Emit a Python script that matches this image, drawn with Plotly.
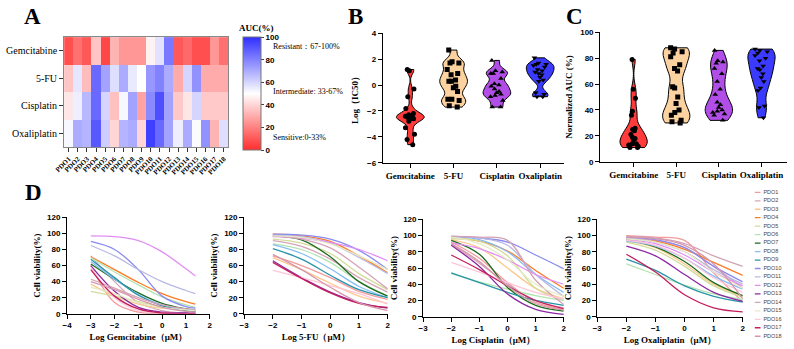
import plotly.graph_objects as go

# ---------------- data ----------------
pdo_names = [f"PDO{i}" for i in range(1, 19)]
drugs = ["Gemcitabine", "5-FU", "Cisplatin", "Oxaliplatin"]

# Panel A: AUC(%) heatmap rows
auc_gem = [8, 16, 10, 36, 6, 32, 25, 25, 25, 47, 57, 82, 10, 14, 8, 8, 25, 16]
auc_5fu = [36, 56, 34, 86, 72, 58, 70, 55, 50, 75, 80, 70, 30, 60, 76, 30, 30, 30]
auc_cis = [44, 54, 67, 86, 60, 35, 52, 72, 28, 78, 92, 72, 37, 44, 60, 37, 37, 37]
auc_oxa = [52, 70, 68, 90, 62, 40, 68, 70, 40, 96, 86, 72, 54, 70, 51, 76, 32, 58]

# Panel B: Log(IC50)
ic50_gem = [1.2, 1.1, -0.3, -0.9, -1.8, -2.2, -2.3, -2.4, -2.4, -2.5, -2.5, -2.6, -2.6, -2.8, -3.3, -3.8, -4.2, -4.6]
ic50_5fu = [2.7, 1.8, 1.7, 1.7, 1.2, 0.9, 0.8, 0.4, 0.3, 0.3, -0.1, -0.2, -0.5, -1.1, -1.2, -1.1, -1.6, -1.7]
ic50_cis = [1.9, 1.1, 1.0, 0.9, 0.9, 0.5, 0.1, 0.0, -0.1, -0.3, -0.5, -0.6, -0.7, -0.8, -0.9, -1.2, -1.7, -1.7]
ic50_oxa = [2.1, 1.7, 1.6, 1.6, 1.5, 1.4, 1.2, 1.1, 1.0, 0.9, 0.8, 0.6, 0.4, 0.3, -0.6, -0.7, -0.9, -0.9]

# Panel C: Normalized AUC (%)
nauc_gem = [79, 56, 49, 39, 36, 26, 25, 24, 21, 19, 18, 17, 14, 14, 13, 12, 11, 11]
nauc_5fu = [88, 87, 85, 84, 81, 75, 72, 70, 58, 57, 50, 45, 40, 38, 36, 32, 31, 30]
nauc_cis = [86, 78, 77, 76, 72, 68, 62, 56, 52, 46, 44, 42, 40, 39, 38, 37, 36, 32]
nauc_oxa = [87, 86, 85, 84, 82, 80, 78, 74, 72, 71, 68, 65, 62, 57, 55, 43, 42, 34]

# Panel D: cell viability (%) read at log-dose points
dose_gem = [-3, -2, -1, 0, 1, 1.4]
dose_other = [-2, -1, 0, 1, 2]

via_gem = [
    [60, 14, 2, 0, 0, 0],        # PDO1
    [72, 40, 14, 4, 1, 1],       # PDO2
    [37, 22, 12, 7, 5, 4],       # PDO3
    [71, 55, 39, 25, 15, 12],    # PDO4
    [28, 22, 15, 9, 6, 5],       # PDO5
    [70, 52, 36, 21, 11, 8],     # PDO6
    [62, 43, 26, 13, 6, 4],      # PDO7
    [65, 43, 24, 11, 5, 4],      # PDO8
    [68, 45, 23, 10, 4, 3],      # PDO9
    [90, 80, 55, 22, 9, 7],      # PDO10
    [85, 72, 55, 40, 29, 25],    # PDO11
    [97, 96, 91, 77, 56, 47],    # PDO12
    [60, 28, 8, 2, 1, 1],        # PDO13
    [43, 32, 20, 11, 6, 5],      # PDO14
    [33, 25, 14, 8, 5, 4],       # PDO15
    [58, 20, 4, 1, 0, 0],        # PDO16
    [55, 22, 6, 1, 0, 0],        # PDO17
    [40, 30, 18, 8, 3, 2],       # PDO18
]
via_5fu = [
    [72, 60, 45, 28, 18],
    [91, 84, 68, 45, 27],
    [70, 55, 38, 22, 13],
    [99, 97, 90, 72, 51],
    [93, 88, 75, 50, 30],
    [87, 80, 64, 40, 22],
    [97, 92, 71, 40, 22],
    [86, 75, 56, 34, 20],
    [81, 68, 48, 30, 20],
    [99, 98, 93, 79, 55],
    [98, 96, 88, 70, 50],
    [96, 94, 89, 80, 66],
    [66, 45, 27, 14, 7],
    [97, 93, 82, 58, 31],
    [97, 95, 87, 72, 55],
    [54, 45, 35, 25, 12],
    [64, 44, 26, 13, 8],
    [74, 55, 33, 14, 4],
]
via_cis = [
    [92, 72, 42, 18, 9],
    [89, 66, 40, 20, 11],
    [95, 85, 60, 35, 22],
    [97, 93, 81, 57, 35],
    [96, 93, 75, 35, 20],
    [53, 43, 34, 26, 20],
    [94, 77, 36, 14, 7],
    [99, 95, 80, 52, 30],
    [54, 42, 30, 20, 14],
    [99, 97, 92, 76, 59],
    [99, 97, 88, 52, 25],
    [91, 84, 70, 52, 40],
    [88, 62, 28, 9, 3],
    [99, 98, 94, 45, 15],
    [98, 90, 70, 40, 25],
    [67, 55, 42, 30, 22],
    [76, 58, 38, 20, 10],
    [90, 68, 38, 16, 8],
]
via_oxa = [
    [100, 98, 94, 54, 18],
    [97, 94, 85, 62, 35],
    [93, 85, 65, 40, 25],
    [96, 93, 83, 67, 51],
    [92, 82, 62, 38, 24],
    [65, 52, 39, 28, 21],
    [95, 86, 68, 42, 26],
    [93, 87, 72, 50, 34],
    [71, 57, 38, 25, 18],
    [98, 95, 85, 62, 43],
    [97, 92, 80, 58, 40],
    [95, 90, 76, 55, 38],
    [87, 75, 52, 30, 19],
    [99, 97, 90, 75, 62],
    [96, 92, 80, 55, 35],
    [94, 88, 72, 48, 30],
    [77, 55, 27, 11, 6],
    [98, 96, 88, 65, 22],
]

pdo_colors = ["#f39a9a", "#d6a6b6", "#fbc98e", "#ff7a24", "#d2dc98", "#b2e4b2",
              "#1e6b1e", "#86bdf4", "#2993a8", "#8a8af0", "#b8b8e4", "#e08ef4",
              "#8b28a2", "#d4a2b6", "#e6eac4", "#ffc6da", "#c41e5c", "#d696ac"]

violin_fill = ["#ff3b3b", "#fcd3a0", "#b24ee8", "#3b3bff"]
violin_sym = ["circle", "square", "triangle-up", "triangle-down"]

# ---------------- helpers ----------------
W, H = 794, 349
def fx(p):
    return p / W
def fy(p):
    return 1 - p / H

SERIF = "Liberation Serif"
SANS = "Liberation Sans"
tick_bold = dict(family=SANS, size=8, color="black", weight="bold")
title_bold = dict(family=SERIF, size=9, color="black", weight="bold")

fig = go.Figure()

# ---------------- Panel A heatmap ----------------
fig.add_trace(go.Heatmap(
    z=[auc_gem, auc_5fu, auc_cis, auc_oxa], x=pdo_names, y=drugs,
    zmin=0, zmax=100, xaxis="x", yaxis="y",
    colorscale=[[0, "#ff2e2e"], [0.5, "#ffffff"], [1, "#2e2eff"]],
    colorbar=dict(x=fx(237), xanchor="left", y=fy(34), yanchor="top",
                  len=113, lenmode="pixels", thickness=18, thicknessmode="pixels",
                  xpad=0, ypad=0, outlinewidth=1, outlinecolor="#777",
                  tickvals=[0, 20, 40, 60, 80, 100], ticks="outside", ticklen=3,
                  tickfont=dict(family=SANS, size=8, color="black", weight="bold")),
    showscale=True))

# ---------------- Panel B / C violins ----------------
b_sets = [ic50_gem, ic50_5fu, ic50_cis, ic50_oxa]
c_sets = [nauc_gem, nauc_5fu, nauc_cis, nauc_oxa]
b_bw = [0.3, 0.35, 0.3, 0.3]
c_bw = [5, 6, 7, 6]
for i, d in enumerate(drugs):
    for ax, vals, bw in (("2", b_sets[i], b_bw[i]), ("3", c_sets[i], c_bw[i])):
        fig.add_trace(go.Violin(
            x=[d] * len(vals), y=vals, xaxis="x" + ax, yaxis="y" + ax,
            fillcolor=violin_fill[i], line=dict(color="black", width=1),
            opacity=1, width=0.64, spanmode="hard", bandwidth=bw,
            points="all", pointpos=0, jitter=0.55,
            marker=dict(color="black", size=5, symbol=violin_sym[i]),
            box=dict(visible=False), meanline=dict(visible=False),
            scalemode="width", showlegend=False))

# ---------------- Panel D curves ----------------
d_sets = [(via_gem, dose_gem), (via_5fu, dose_other), (via_cis, dose_other), (via_oxa, dose_other)]
for k, (curves, dose) in enumerate(d_sets):
    for j, c in enumerate(curves):
        fig.add_trace(go.Scatter(
            x=dose, y=c, mode="lines", xaxis=f"x{4+k}", yaxis=f"y{4+k}",
            line=dict(color=pdo_colors[j], width=1.3, shape="spline", smoothing=1),
            showlegend=False, hoverinfo="skip"))

# ---------------- legend (own hidden axis) ----------------
for j, name in enumerate(pdo_names):
    fig.add_trace(go.Scatter(
        x=[0, 1], y=[j + 1, j + 1], mode="lines", xaxis="x8", yaxis="y8",
        line=dict(color=pdo_colors[j], width=1.3), showlegend=False, hoverinfo="skip"))
fig.add_trace(go.Scatter(
    x=[1.5] * 18, y=list(range(1, 19)), mode="text", text=pdo_names,
    textposition="middle right", xaxis="x8", yaxis="y8",
    textfont=dict(family=SANS, size=5.5, color="#444"), showlegend=False, hoverinfo="skip"))

# ---------------- layout ----------------
axis_common = dict(showline=True, linecolor="black", linewidth=1, ticks="outside",
                   ticklen=4, tickwidth=1, tickcolor="black", showgrid=False,
                   zeroline=False, tickfont=tick_bold)

layout = dict(
    width=W, height=H, margin=dict(l=0, r=0, t=0, b=0),
    paper_bgcolor="white", plot_bgcolor="white", showlegend=False,
    violinmode="overlay", violingap=0,
)

# heatmap axes
layout["xaxis"] = dict(domain=[fx(55), fx(222)], anchor="y", tickangle=-45,
                       ticks="outside", ticklen=4, tickcolor="#333", showgrid=False,
                       showline=True, mirror=True, linecolor="#888", linewidth=1,
                       tickfont=dict(family=SERIF, size=7, color="black", weight="bold"))
layout["yaxis"] = dict(domain=[fy(147), fy(34)], anchor="x", autorange="reversed",
                       ticks="outside", ticklen=4, tickcolor="#333", showgrid=False,
                       showline=True, mirror=True, linecolor="#888", linewidth=1,
                       tickfont=dict(family=SERIF, size=10, color="black"))

# B
layout["xaxis2"] = dict(axis_common, domain=[fx(379), fx(563)], anchor="y2",
                        range=[-0.636, 3.545], type="category",
                        tickfont=dict(family=SERIF, size=9, color="black", weight="bold"))
layout["yaxis2"] = dict(axis_common, domain=[fy(163), fy(30)], anchor="x2",
                        range=[-6, 4], dtick=2,
                        title=dict(text="Log（IC50）", font=title_bold, standoff=6))
# C
layout["xaxis3"] = dict(axis_common, domain=[fx(600), fx(790)], anchor="y3",
                        range=[-0.785, 3.6], type="category",
                        tickfont=dict(family=SERIF, size=9, color="black", weight="bold"))
layout["yaxis3"] = dict(axis_common, domain=[fy(162), fy(29)], anchor="x3",
                        range=[0, 100], dtick=20,
                        title=dict(text="Normalized AUC (%)", font=title_bold, standoff=6))

# D panels
d_x = [(58, 203, [-4, 2], "Log Gemcitabine（μM）"),
       (238, 384, [-3, 2], "Log 5-FU（μM）"),
       (420, 563, [-3, 2], "Log Cisplatin（μM）"),
       (597, 745, [-3, 2], "Log Oxaliplatin（μM）")]
d_y = [(219, 318), (219, 318), (221, 321), (221, 321)]
for k, (x0, x1, rng, ttl) in enumerate(d_x):
    n = 4 + k
    layout[f"xaxis{n}"] = dict(axis_common, domain=[fx(x0), fx(x1)], anchor=f"y{n}",
                               range=rng, dtick=1,
                               title=dict(text=ttl, font=title_bold, standoff=4))
    layout[f"yaxis{n}"] = dict(axis_common, domain=[fy(d_y[k][1]), fy(d_y[k][0])],
                               anchor=f"x{n}", range=[0, 120], dtick=20,
                               title=dict(text="Cell viability(%)", font=title_bold, standoff=4))

# legend axis
leg_top = 193.3
leg_step = 8.69
layout["xaxis8"] = dict(domain=[fx(757), 1], anchor="y8", range=[0, 37 / 6], visible=False)
layout["yaxis8"] = dict(domain=[0, fy(185)], anchor="x8",
                        range=[1 + (349 - leg_top) / leg_step, 1 - (leg_top - 185) / leg_step],
                        visible=False)

ann = []
for txt, x, y in (("A", 12, 13), ("B", 342, 13), ("C", 563, 13), ("D", 13, 193)):
    ann.append(dict(text=txt, x=fx(x), y=fy(y), xref="paper", yref="paper",
                    xanchor="left", yanchor="middle", showarrow=False,
                    font=dict(family=SERIF, size=23, color="black", weight="bold")))
ann.append(dict(text="AUC(%)", x=fx(251), y=fy(25), xref="paper", yref="paper",
                xanchor="center", yanchor="middle", showarrow=False,
                font=dict(family=SERIF, size=9, color="black", weight="bold")))
for txt, y in (("Resistant：67-100%", 44), ("Intermediate: 33-67%", 90), ("Sensitive:0-33%", 137)):
    ann.append(dict(text=txt, x=fx(265), y=fy(y), xref="paper", yref="paper",
                    xanchor="left", yanchor="middle", showarrow=False,
                    font=dict(family=SERIF, size=8, color="black")))
layout["annotations"] = ann

fig.update_layout(layout)
fig.write_html("out.html")
